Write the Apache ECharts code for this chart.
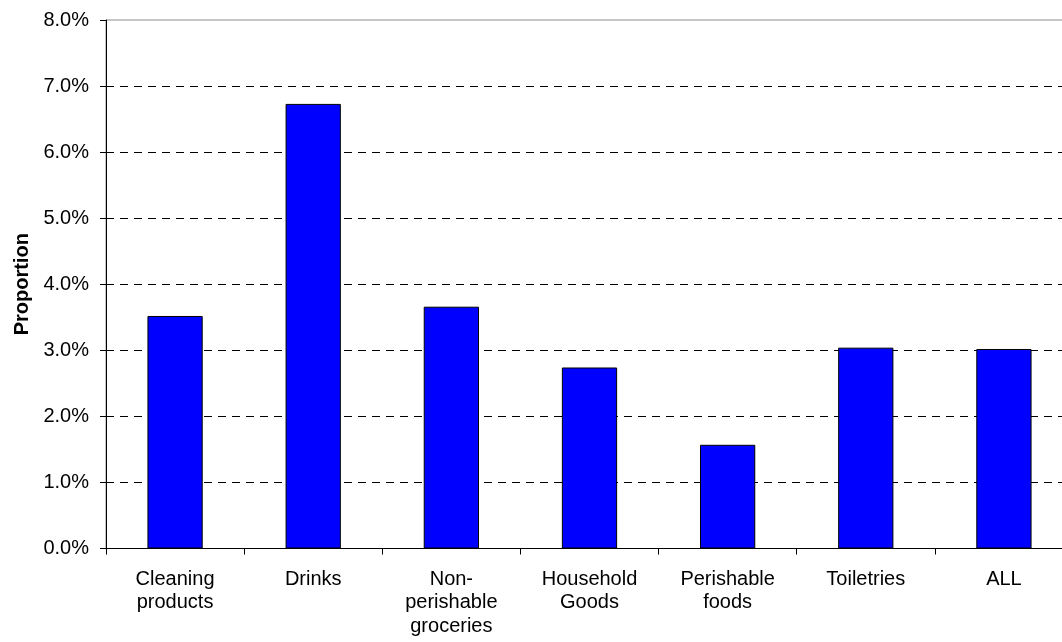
<!DOCTYPE html>
<html>
<head>
<meta charset="utf-8">
<script src="https://cdn.jsdelivr.net/npm/echarts@6/dist/echarts.min.js"></script>
<style>html,body{margin:0;padding:0;background:#fff;overflow:hidden;width:1062px;height:642px;}#c{width:1073px;height:642px;}</style>
</head>
<body>
<div id="c"></div>
<script>
const categories = ['Cleaning\nproducts', 'Drinks', 'Non-\nperishable\ngroceries', 'Household\nGoods', 'Perishable\nfoods', 'Toiletries', 'ALL'];
const proportions = [3.52, 6.73, 3.66, 2.74, 1.57, 3.04, 3.02];
const yTicks = [0, 1, 2, 3, 4, 5, 6, 7, 8];

const chart = echarts.init(document.getElementById('c'), null, {renderer: 'canvas'});
const font = 'Arial, "Liberation Sans", sans-serif';
chart.setOption({
  animation: false,
  backgroundColor: '#fff',
  grid: {left: 106, top: 20, right: 0, bottom: 93.5, containLabel: false,
         show: true, borderColor: '#8c8c8c', borderWidth: 1, backgroundColor: 'transparent'},
  xAxis: {
    type: 'category',
    data: categories,
    boundaryGap: true,
    axisLine: {lineStyle: {color: '#000', width: 1}},
    axisTick: {show: true, alignWithLabel: false, length: 6, lineStyle: {color: '#000'}},
    axisLabel: {interval: 0, color: '#000', fontSize: 20, fontFamily: font, lineHeight: 23.5, margin: 19},
    splitLine: {show: false}
  },
  yAxis: {
    type: 'value',
    min: yTicks[0], max: yTicks[yTicks.length - 1], interval: 1,
    name: 'Proportion',
    nameLocation: 'middle',
    nameGap: 74,
    nameRotate: 90,
    nameTextStyle: {color: '#000', fontSize: 20, fontWeight: 'bold', fontFamily: font},
    axisLine: {show: true, lineStyle: {color: '#000', width: 1}},
    axisTick: {show: true, length: 6, lineStyle: {color: '#000'}},
    axisLabel: {color: '#000', fontSize: 20, fontFamily: font, margin: 17,
                formatter: v => v.toFixed(1) + '%'},
    splitLine: {show: true, lineStyle: {
      color: ['#000','#000','#000','#000','#000','#000','#000','#000','transparent'],
      type: [8, 6], width: 1}}
  },
  series: [{
    type: 'bar',
    data: proportions,
    barWidth: '40%',
    itemStyle: {color: '#0000ff', borderColor: '#000', borderWidth: 1}
  }]
});
</script>
</body>
</html>
